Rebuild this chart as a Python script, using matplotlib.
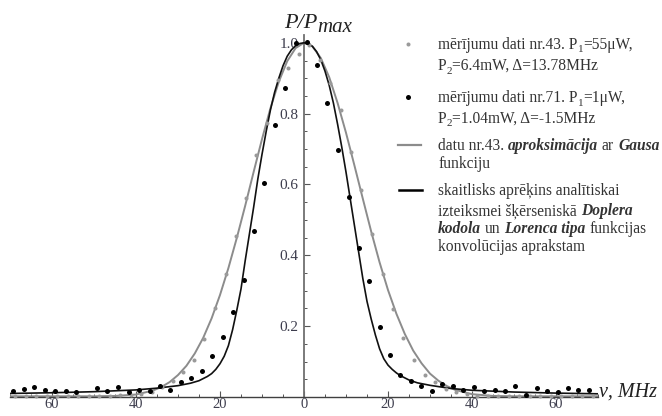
import matplotlib
matplotlib.use("Agg")
import matplotlib.pyplot as plt
from matplotlib.font_manager import FontProperties
from matplotlib.ticker import FixedLocator, MultipleLocator, FuncFormatter

# ---- measured points, series nr.43 (grey) ----
meas43_nu = [-68.8, -66.3, -63.8, -61.3, -58.8, -56.3, -53.8, -51.3, -48.7, -46.2,
             -43.7, -41.2, -38.7, -36.2, -33.7, -31.2, -28.7, -26.2, -23.7, -21.1,
             -18.6, -16.2, -13.8, -11.4, -8.8, -6.3, -3.9, -1.3, 1.2, 3.8, 6.3, 8.7,
             11.1, 13.6, 16.2, 18.7, 21.3, 23.6, 26.3, 28.8, 31.2, 33.7, 36.3, 38.7,
             41.2, 43.7, 46.2, 48.8, 51.3, 53.8, 56.3, 58.8, 61.3, 63.8, 66.3, 68.8]
meas43_p = [0.003, 0.003, 0.003, 0.003, 0.003, 0.003, 0.003, 0.004, 0.004, 0.004,
            0.005, 0.006, 0.008, 0.015, 0.028, 0.046, 0.071, 0.105, 0.165, 0.25,
            0.347, 0.454, 0.562, 0.684, 0.774, 0.894, 0.928, 0.967, 0.993, 0.952,
            0.886, 0.811, 0.692, 0.583, 0.461, 0.348, 0.248, 0.166, 0.105, 0.063,
            0.041, 0.023, 0.015, 0.008, 0.004, 0.004, 0.003, 0.003, 0.003, 0.003,
            0.003, 0.003, 0.003, 0.003, 0.003, 0.003]

# ---- measured points, series nr.71 (black) ----
meas71_nu = [-69.3, -66.7, -64.2, -61.7, -59.2, -56.6, -54.2, -49.3, -46.8, -44.2,
             -41.7, -39.3, -36.7, -34.4, -31.8, -29.4, -26.9, -24.4, -21.9, -19.4,
             -17.0, -14.4, -11.8, -9.5, -6.9, -4.5, -2.0, 0.8, 3.0, 5.5, 8.1, 10.6,
             13.0, 15.5, 18.0, 20.5, 22.9, 25.4, 27.9, 30.4, 32.9, 35.4, 37.9, 40.4,
             42.9, 45.4, 47.9, 50.3, 52.9, 55.5, 57.9, 60.4, 62.8, 65.3, 67.8]
meas71_p = [0.018, 0.023, 0.027, 0.020, 0.016, 0.016, 0.015, 0.024, 0.016, 0.029,
            0.015, 0.021, 0.018, 0.032, 0.020, 0.041, 0.055, 0.074, 0.115, 0.170,
            0.240, 0.330, 0.470, 0.605, 0.767, 0.872, 1.000, 1.003, 0.938, 0.830,
            0.696, 0.565, 0.420, 0.328, 0.198, 0.118, 0.062, 0.046, 0.032, 0.016,
            0.037, 0.032, 0.021, 0.027, 0.018, 0.021, 0.018, 0.030, 0.006, 0.025,
            0.018, 0.013, 0.024, 0.020, 0.020]

# ---- Gaussian approximation of nr.43 (grey curve) ----
gauss_nu = [-70, -60, -50, -45, -40, -36, -34, -32, -30, -28, -26, -24, -22, -20,
            -18, -16, -14, -12, -10, -8, -6, -4, -2, 0, 2, 4, 6, 8, 10, 12, 14,
            16, 18, 20, 22, 24, 26, 28, 30, 32, 34, 36, 40, 45, 50, 60, 70]
gauss_p = [0.002, 0.002, 0.002, 0.003, 0.007, 0.018, 0.028, 0.042, 0.062, 0.088,
           0.123, 0.167, 0.222, 0.288, 0.364, 0.449, 0.540, 0.635, 0.728, 0.815,
           0.890, 0.948, 0.985, 1.000, 0.990, 0.957, 0.903, 0.830, 0.746, 0.654,
           0.560, 0.467, 0.380, 0.302, 0.235, 0.178, 0.131, 0.095, 0.066, 0.046,
           0.031, 0.020, 0.008, 0.003, 0.002, 0.002, 0.002]

# ---- computed Doppler-Lorentz convolution (black curve) ----
conv_nu = [-70, -60, -50, -40, -35, -30, -27, -25, -23, -22, -21, -20, -19, -18,
           -17, -16, -15, -14, -13, -12, -11, -10, -9, -8, -7, -6, -5, -4, -3, -2,
           -1, 0, 1, 2, 3, 4, 5, 6, 7, 8, 9, 10, 11, 12, 13, 14, 15, 16, 17, 18,
           19, 20, 21, 22, 23, 25, 27, 30, 35, 40, 50, 60, 70]
conv_p = [0.010, 0.012, 0.015, 0.020, 0.025, 0.032, 0.039, 0.046, 0.058, 0.066,
          0.078, 0.094, 0.115, 0.145, 0.190, 0.245, 0.305, 0.385, 0.460, 0.535,
          0.615, 0.685, 0.750, 0.810, 0.860, 0.900, 0.935, 0.962, 0.980, 0.992,
          0.998, 1.000, 0.997, 0.990, 0.975, 0.952, 0.920, 0.880, 0.830, 0.770,
          0.705, 0.635, 0.560, 0.485, 0.410, 0.335, 0.270, 0.220, 0.175, 0.136,
          0.108, 0.090, 0.078, 0.068, 0.060, 0.048, 0.040, 0.033, 0.024, 0.019,
          0.014, 0.011, 0.009]

x_ticks = [-60, -40, -20, 0, 20, 40, 60]
y_ticks = [0.2, 0.4, 0.6, 0.8, 1.0]

legend_lines = [
    (44, [("mērījumu dati nr.43. P", "n"), ("1", "sub"), ("=55μW,", "n")]),
    (65, [("P", "n"), ("2", "sub"), ("=6.4mW, Δ=13.78MHz", "n")]),
    (97, [("mērījumu dati nr.71. P", "n"), ("1", "sub"), ("=1μW,", "n")]),
    (118, [("P", "n"), ("2", "sub"), ("=1.04mW, Δ=-1.5MHz", "n")]),
    (145, [("datu nr.43. ", "n"), ("aproksimācija", "bi"), (" ar ", "n"), ("Gausa", "bi")]),
    (163, [("funkciju", "n")]),
    (190, [("skaitlisks aprēķins analītiskai", "n")]),
    (210, [("izteiksmei šķērseniskā ", "n"), ("Doplera", "bi")]),
    (228, [("kodola", "bi"), (" un ", "n"), ("Lorenca tipa", "bi"), (" funkcijas", "n")]),
    (246, [("konvolūcijas aprakstam", "n")]),
]

W, H = 662, 416
SERIF = ["Liberation Serif", "DejaVu Serif"]
GREY_PT = "#9a9a9a"
GREY_LN = "#8c8c8c"
TXT = "#333333"
TICK_TXT = "#3d3d4d"

fig = plt.figure(figsize=(W / 100, H / 100), dpi=100)
ax = fig.add_axes([10 / W, 19 / H, 588 / W, 362 / H])
ax.patch.set_visible(False)
ax.set_xlim(-70, 70)
ax.set_ylim(0, 1.022)

for side in ("top", "right"):
    ax.spines[side].set_visible(False)
ax.spines["left"].set_position(("data", 0))
ax.spines["left"].set_color("#707070")
ax.spines["left"].set_linewidth(1.3)
ax.spines["bottom"].set_color("#404040")
ax.spines["bottom"].set_linewidth(1.0)

ax.xaxis.set_major_locator(FixedLocator(x_ticks))
ax.xaxis.set_major_formatter(FuncFormatter(lambda v, p: f"{abs(v):.0f}"))
ax.xaxis.set_minor_locator(MultipleLocator(5))
ax.yaxis.set_major_locator(FixedLocator(y_ticks))
ax.yaxis.set_major_formatter(FuncFormatter(lambda v, p: f"{v:.1f}"))
ax.yaxis.set_minor_locator(MultipleLocator(0.05))
ax.tick_params(which="major", direction="in", length=4, width=0.8, color="#555555",
               labelcolor=TICK_TXT)
ax.tick_params(which="minor", direction="in", length=2.5, width=0.7, color="#555555")
ax.tick_params(axis="x", pad=1, labelsize=10.5)
ax.tick_params(axis="y", pad=4, labelsize=11)
for lab in ax.get_xticklabels() + ax.get_yticklabels():
    lab.set_fontfamily(SERIF)

ax.plot(gauss_nu, gauss_p, color=GREY_LN, lw=1.4, zorder=2)
ax.plot(conv_nu, conv_p, color="#111111", lw=1.2, zorder=3)
ax.plot(meas43_nu, meas43_p, "o", ms=2.9, color=GREY_PT, mec="none", zorder=4,
        clip_on=False)
ax.plot(meas71_nu, meas71_p, "o", ms=3.6, color="#000000", mec="none", zorder=5,
        clip_on=False)

# ---- text helpers in pixel coordinates (origin top-left) ----
renderer = fig.canvas.get_renderer()


def fxy(x, y):
    return x / W, 1 - y / H


def advance(s, fp):
    w1 = renderer.get_text_width_height_descent("|" + s + "|", fp, ismath=False)[0]
    w0 = renderer.get_text_width_height_descent("||", fp, ismath=False)[0]
    return w1 - w0


def props(style, size):
    if style == "bi":
        return FontProperties(family=SERIF, size=size, style="italic", weight="bold")
    if style == "i":
        return FontProperties(family=SERIF, size=size, style="italic")
    if style == "sub":
        return FontProperties(family=SERIF, size=size * 0.72)
    return FontProperties(family=SERIF, size=size)


def rich(x, y_base, segments, size, color):
    for s, style in segments:
        fp = props(style, size)
        dy = 3.5 if style == "sub" else 0
        lead = len(s) - len(s.lstrip(" "))
        core = s.strip(" ")
        if core:
            x0 = x + (advance(" " * lead, fp) if lead else 0)
            fig.text(*fxy(x0, y_base + dy), core, fontproperties=fp, color=color,
                     ha="left", va="baseline")
        x += advance(s, fp)
    return x


# axis titles
xe = rich(284, 28, [("P/P", "i")], 16, "#222222")
rich(xe, 32, [("max", "i")], 15, "#222222")
rich(599, 397, [("ν, MHz", "i")], 14.5, "#222222")

# legend
for yc, segs in legend_lines:
    rich(438, yc + 5, segs, 11.2, TXT)

fig.add_artist(plt.Line2D([408 / W], [1 - 44 / H], marker="o", ms=2.9,
                          color=GREY_PT, mec="none", ls="none"))
fig.add_artist(plt.Line2D([408 / W], [1 - 97 / H], marker="o", ms=3.6,
                          color="#000000", mec="none", ls="none"))
fig.add_artist(plt.Line2D([398 / W, 421 / W], [1 - 145 / H, 1 - 145 / H],
                          color=GREY_LN, lw=1.6))
fig.add_artist(plt.Line2D([399 / W, 422 / W], [1 - 190 / H, 1 - 190 / H],
                          color="#000000", lw=1.8))

fig.savefig("out.png", dpi=100)
